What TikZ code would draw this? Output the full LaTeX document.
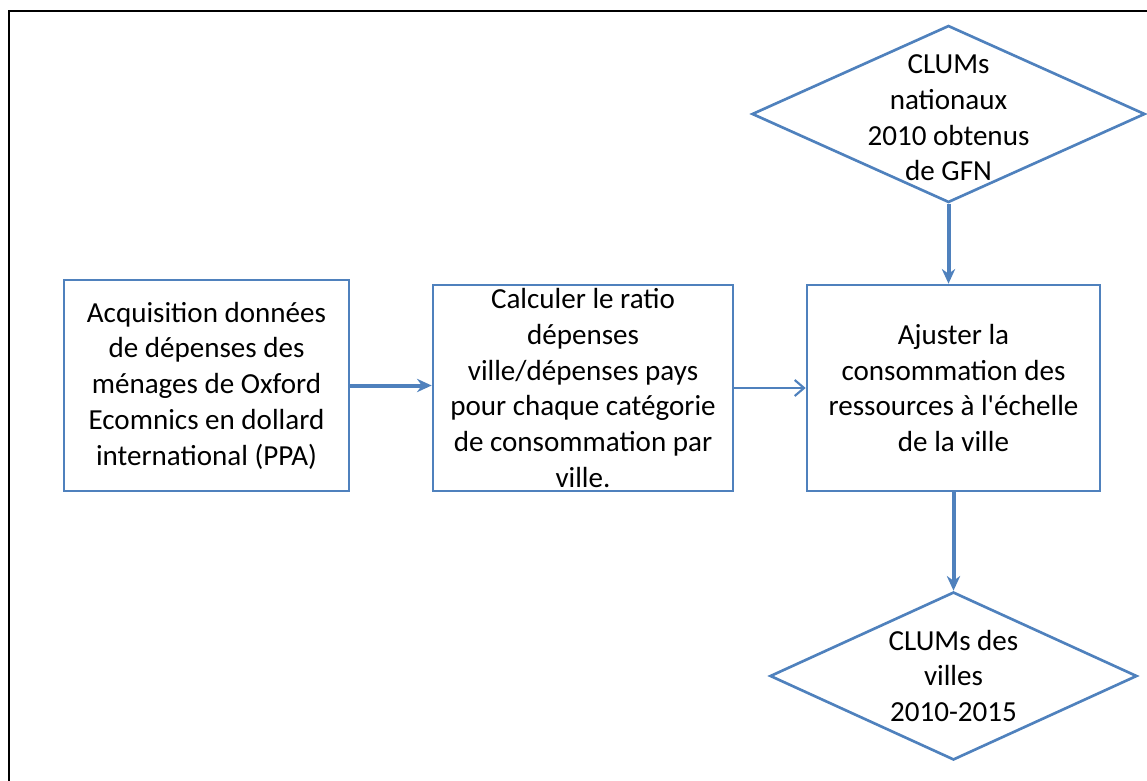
\documentclass[tikz,border=0pt]{standalone}
\usepackage{fontspec}
\setmainfont{Carlito}
\usetikzlibrary{arrows.meta,shapes.geometric}
\definecolor{offblue}{RGB}{79,129,189}
\newcommand{\boxfont}{\fontsize{21.8}{26.8}\selectfont}

\begin{document}
\begin{tikzpicture}[x=0.75pt,y=-0.75pt,
  box/.style={draw=offblue,line width=2pt,align=center,inner sep=0pt,font=\boxfont},
  dia/.style={diamond,draw=offblue,line width=2pt,inner sep=0pt},
  txt/.style={align=center,inner sep=0pt,font=\boxfont},
  thickarrow/.style={-{Stealth[length=11pt,width=10pt]},offblue,line width=3pt},
  thinarrow/.style={-{Straight Barb[length=7pt,width=12pt]},offblue,line width=1.6pt}]
  \useasboundingbox (0,0) rectangle (1147,781);
  % outer frame (cut at right and bottom)
  \draw[line width=2.2pt] (9,781) -- (9,11) -- (1147,11);
  % process boxes
  \node[box,minimum width=213.75pt,minimum height=158.25pt] (acq) at (206.5,385.5)
    {Acquisition données\\de dépenses des\\ménages de Oxford\\Ecomnics en dollard\\international (PPA)};
  \node[box,minimum width=225pt,minimum height=154.5pt] (calc) at (583,388)
    {Calculer le ratio\\dépenses\\ville/dépenses pays\\pour chaque catégorie\\de consommation par\\ville.};
  \node[box,minimum width=219.75pt,minimum height=154.5pt] (ajust) at (953.5,388)
    {Ajuster la\\consommation des\\ressources à l\textquotesingle échelle\\de la ville};
  % data diamonds
  \node[dia,minimum width=294.75pt,minimum height=132.75pt,
    label={[txt,yshift=-3pt]center:CLUMs\\nationaux\\2010 obtenus\\de GFN}] (clumnat) at (948.5,114) {};
  \node[dia,minimum width=275.25pt,minimum height=126pt,
    label={[txt]center:CLUMs des\\villes\\2010-2015}] (clumvil) at (953.5,676) {};
  % connectors
  \draw[thickarrow] (acq.east) -- (acq.east -| calc.west);
  \draw[thinarrow] (calc.east) -- (ajust.west);
  \draw[thickarrow] (clumnat.south) -- (clumnat.south |- ajust.north);
  \draw[thickarrow] (ajust.south) -- (clumvil.north);
\end{tikzpicture}
\end{document}
